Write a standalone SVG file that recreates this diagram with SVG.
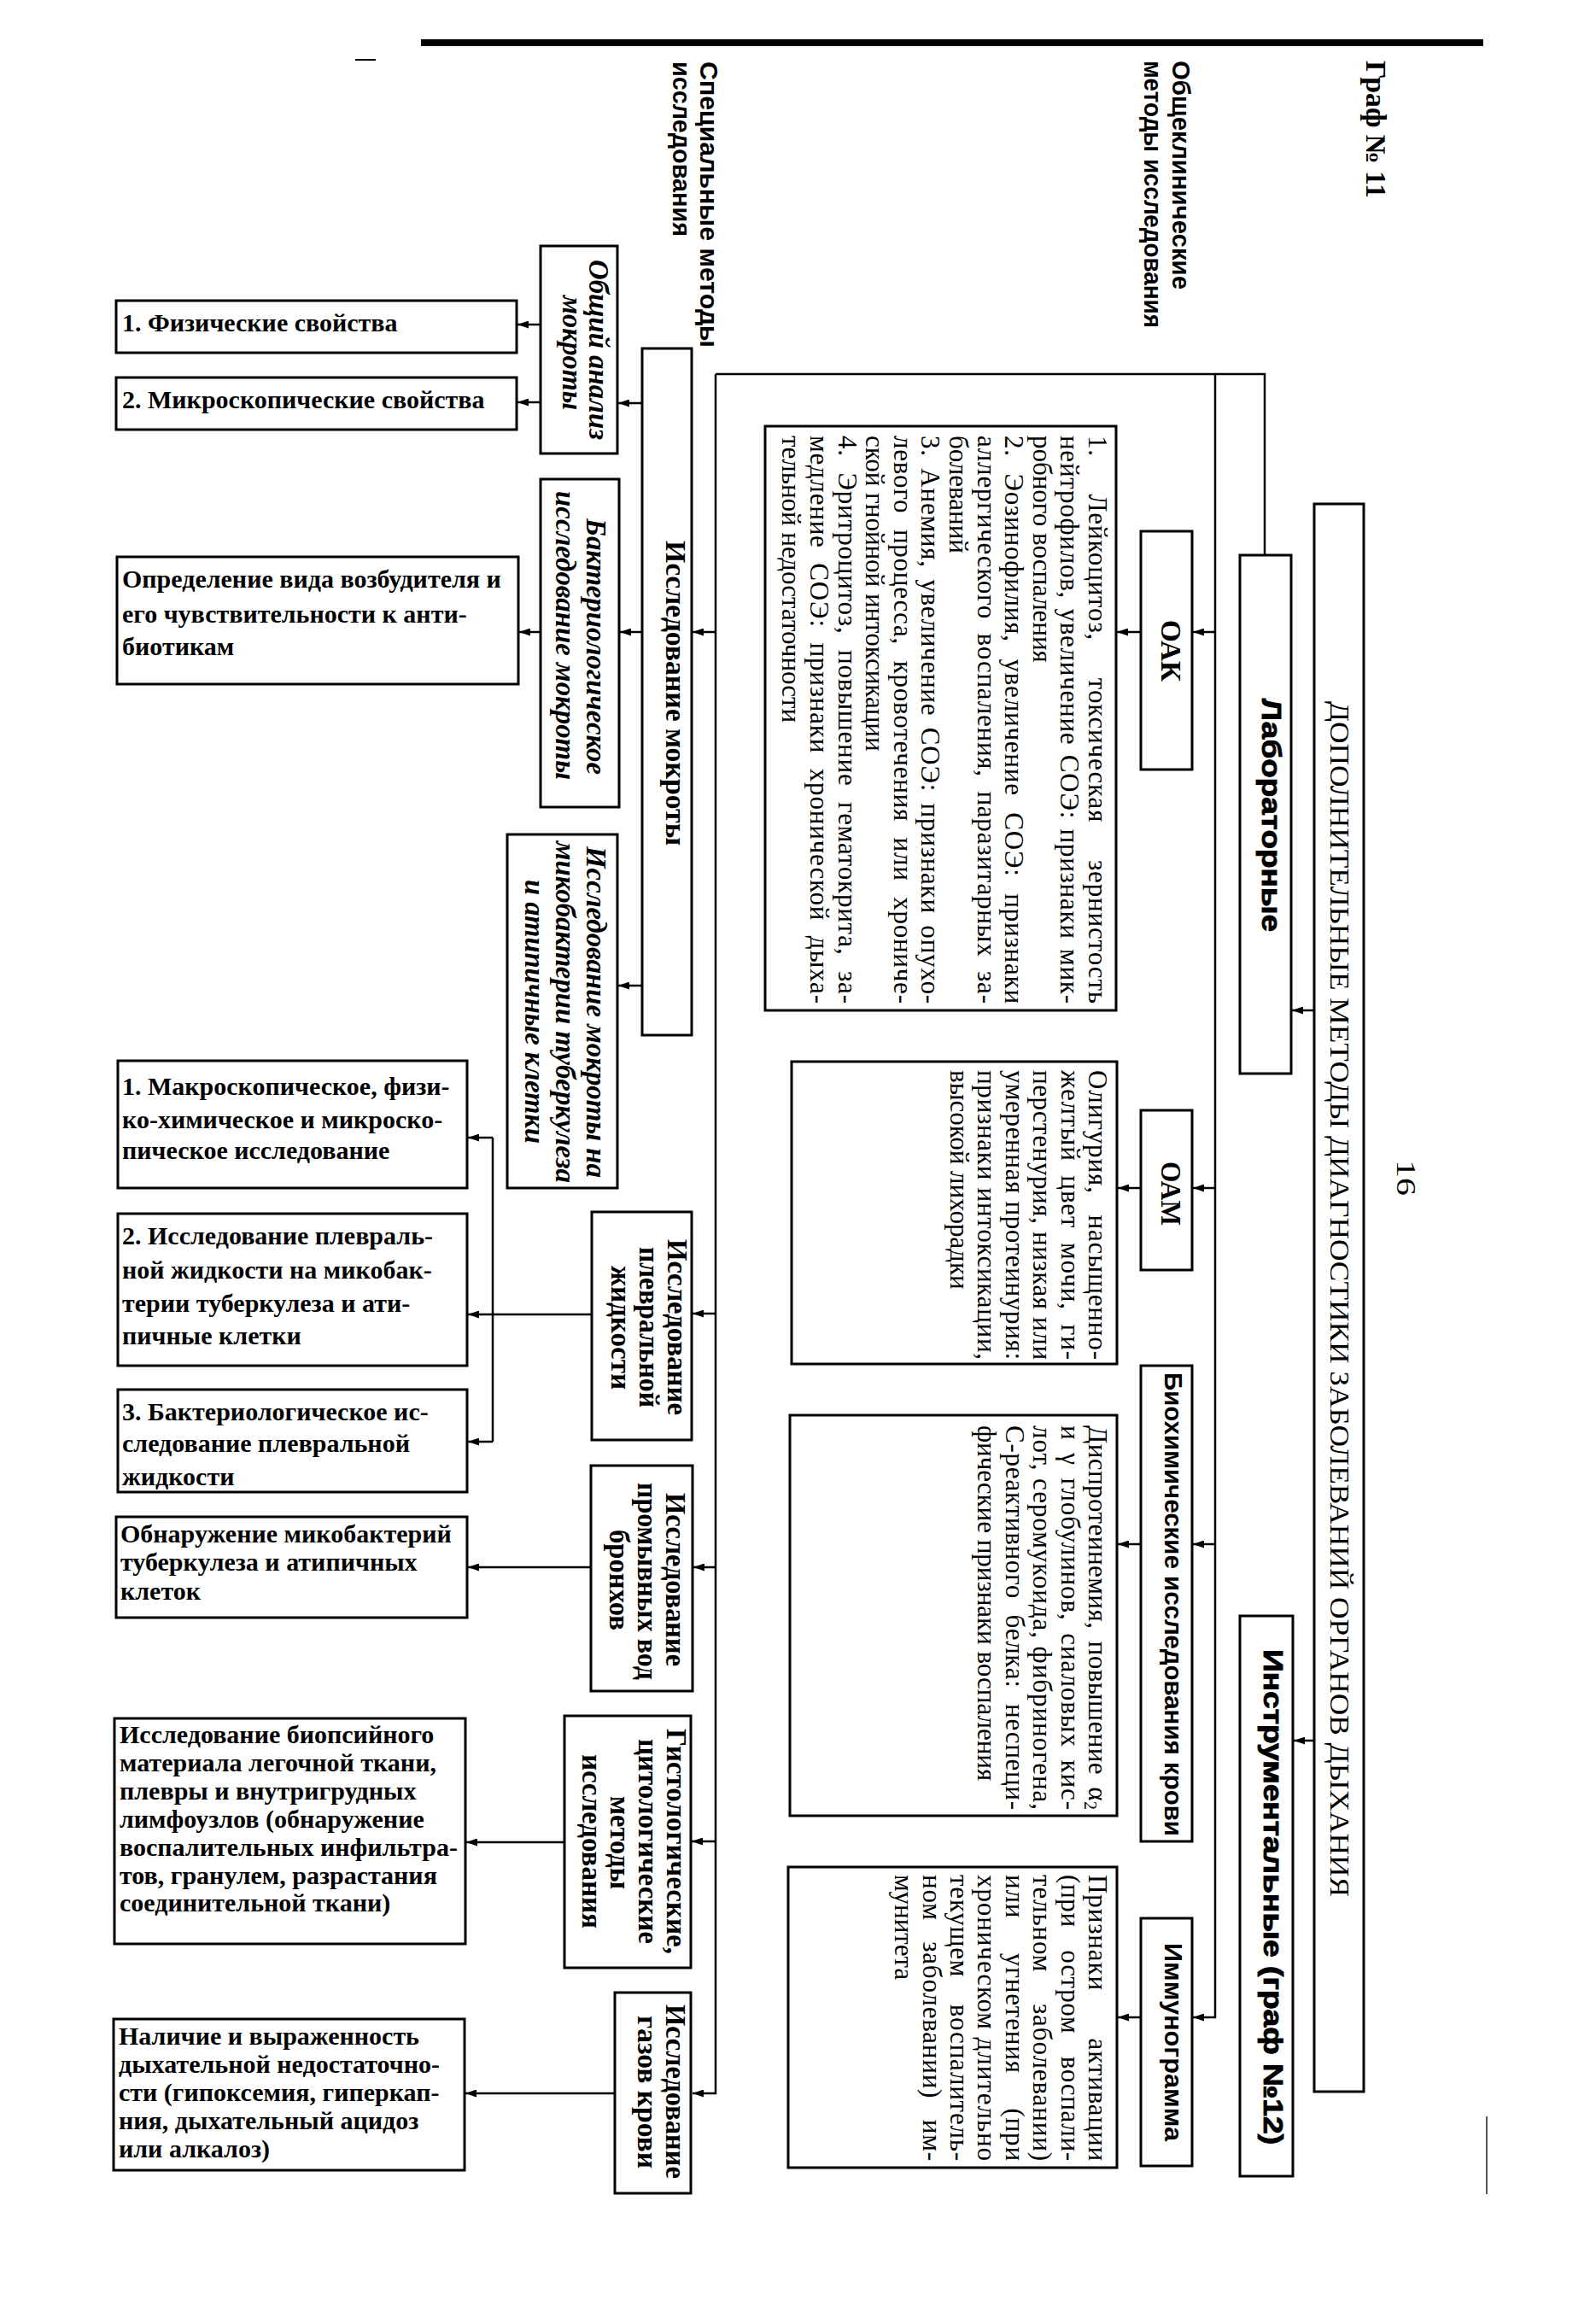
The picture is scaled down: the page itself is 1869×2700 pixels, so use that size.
<svg xmlns="http://www.w3.org/2000/svg" width="1869" height="2700" viewBox="0 0 1869 2700">
<style>
.box{fill:#fff;stroke:#000;stroke-width:3}
.ln{fill:none;stroke:#000;stroke-width:2.5}
.ar{fill:none;stroke:#000;stroke-width:2.5;marker-end:url(#ah)}
.tr{font-family:"Liberation Serif",serif;font-size:31px}
.tb{font-family:"Liberation Serif",serif;font-weight:bold;font-size:30px}
.lb{font-family:"Liberation Serif",serif;font-weight:bold;font-size:33px}
.lbi{font-family:"Liberation Serif",serif;font-weight:bold;font-style:italic;font-size:33px}
.sb{font-family:"Liberation Sans",sans-serif;font-weight:bold;font-size:30px}
.hv{font-family:"Liberation Sans",sans-serif;font-weight:bold;font-size:32px;stroke:#000;stroke-width:0.9}
</style>
<defs>
<marker id="ah" markerWidth="13" markerHeight="9" refX="13" refY="4.5" orient="auto" markerUnits="userSpaceOnUse"><path d="M0,0 L13,4.5 L0,9 z" fill="#000"/></marker>
</defs>
<rect width="1869" height="2700" fill="#fff"/>

<g id="page-marks">
<path d="M493,50 H1737" stroke="#000" stroke-width="8"/>
<path d="M416,70 H440" stroke="#000" stroke-width="2"/>
<path d="M1741,2478 V2569" stroke="#555" stroke-width="2"/>
<text class="lb" transform="translate(1600,71) rotate(90)" textLength="161" lengthAdjust="spacingAndGlyphs">Граф № 11</text>
<text class="tr" transform="translate(1636,1358) rotate(90)" textLength="42" lengthAdjust="spacingAndGlyphs">16</text>
<text class="sb" font-size="33" transform="translate(1373,71) rotate(90)" textLength="268" lengthAdjust="spacingAndGlyphs">Общеклинические</text>
<text class="sb" font-size="33" transform="translate(1340,71) rotate(90)" textLength="313" lengthAdjust="spacingAndGlyphs">методы исследования</text>
<text class="sb" font-size="31" transform="translate(820,72) rotate(90)" textLength="335" lengthAdjust="spacingAndGlyphs">Специальные методы</text>
<text class="sb" font-size="31" transform="translate(788,72) rotate(90)" textLength="205" lengthAdjust="spacingAndGlyphs">исследования</text>
</g>

<g id="connectors">
<path class="ln" d="M1481,650 V438 H838"/>
<path class="ar" d="M838,438 V2451 H811"/>
<path class="ar" d="M1423,438 V2362 H1397"/>
<path class="ar" d="M1423,740 H1397"/>
<path class="ar" d="M1423,1391 H1397"/>
<path class="ar" d="M1423,1808 H1397"/>
<path class="ar" d="M1539,1183 H1513"/>
<path class="ar" d="M1539,2038 H1515"/>
<path class="ar" d="M1336,740 H1308"/>
<path class="ar" d="M1336,1391 H1309"/>
<path class="ar" d="M1336,1808 H1309"/>
<path class="ar" d="M1336,2362 H1309"/>
<path class="ar" d="M838,740 H811"/>
<path class="ar" d="M838,1538 H811"/>
<path class="ar" d="M838,1835 H812"/>
<path class="ar" d="M838,2156 H810"/>
<path class="ar" d="M752,472 H724"/>
<path class="ar" d="M752,740 H726"/>
<path class="ar" d="M752,1154 H724"/>
<path class="ar" d="M633,380 H606"/>
<path class="ar" d="M633,471 H606"/>
<path class="ar" d="M633,740 H608"/>
<path class="ar" d="M693,1539 H548"/>
<path class="ln" d="M577,1332 V1688"/>
<path class="ar" d="M577,1332 H548"/>
<path class="ar" d="M577,1688 H548"/>
<path class="ar" d="M692,1835 H548"/>
<path class="ar" d="M661,2157 H546"/>
<path class="ar" d="M720,2451 H545"/>
</g>

<g id="header">
<rect class="box" x="1539" y="590" width="58" height="1859"/>
<text class="tr" transform="translate(1558,821) rotate(90)" textLength="1400" lengthAdjust="spacingAndGlyphs">ДОПОЛНИТЕЛЬНЫЕ МЕТОДЫ ДИАГНОСТИКИ ЗАБОЛЕВАНИЙ ОРГАНОВ ДЫХАНИЯ</text>
</g>

<g id="lab">
<rect class="box" x="1452" y="650" width="60" height="607"/>
<text class="hv" transform="translate(1478,818) rotate(90)" textLength="273" lengthAdjust="spacingAndGlyphs">Лабораторные</text>
</g>

<g id="instr">
<rect class="box" x="1452" y="1892" width="62" height="656"/>
<text class="hv" transform="translate(1480,1931) rotate(90)" textLength="580" lengthAdjust="spacingAndGlyphs">Инструментальные (граф №12)</text>
</g>

<g id="oak">
<rect class="box" x="1336" y="622" width="60" height="279"/>
<text class="lb" font-size="32" transform="translate(1360,726) rotate(90)" textLength="72" lengthAdjust="spacingAndGlyphs">ОАК</text>
</g>
<g id="oam">
<rect class="box" x="1336" y="1300" width="60" height="187"/>
<text class="lb" font-size="32" transform="translate(1360,1360) rotate(90)" textLength="75" lengthAdjust="spacingAndGlyphs">ОАМ</text>
</g>
<g id="biochem">
<rect class="box" x="1336" y="1599" width="60" height="557"/>
<text class="sb" font-size="28" transform="translate(1364,1607) rotate(90)" textLength="543" lengthAdjust="spacingAndGlyphs">Биохимические исследования крови</text>
</g>
<g id="immuno">
<rect class="box" x="1336" y="2246" width="60" height="290"/>
<text class="sb" font-size="28" transform="translate(1364,2275) rotate(90)" textLength="232" lengthAdjust="spacingAndGlyphs">Иммунограмма</text>
</g>

<g id="oak-result">
<rect class="box" x="896" y="499" width="411" height="684"/>
<text class="tr" transform="translate(1275,510) rotate(90)" word-spacing="35" textLength="665">1. Лейкоцитоз, токсическая зернистость</text>
<text class="tr" transform="translate(1242.4,510) rotate(90)" word-spacing="3" textLength="665">нейтрофилов, увеличение СОЭ: признаки мик-</text>
<text class="tr" transform="translate(1209.8,510) rotate(90)">робного воспаления</text>
<text class="tr" transform="translate(1177.2,510) rotate(90)" word-spacing="11" textLength="665">2. Эозинофилия, увеличение СОЭ: признаки</text>
<text class="tr" transform="translate(1144.6,510) rotate(90)" word-spacing="8" textLength="665">аллергического воспаления, паразитарных за-</text>
<text class="tr" transform="translate(1112,510) rotate(90)">болеваний</text>
<text class="tr" transform="translate(1079.4,510) rotate(90)" word-spacing="5" textLength="665">3. Анемия, увеличение СОЭ: признаки опухо-</text>
<text class="tr" transform="translate(1046.8,510) rotate(90)" word-spacing="10" textLength="665">левого процесса, кровотечения или хрониче-</text>
<text class="tr" transform="translate(1014.2,510) rotate(90)">ской гнойной интоксикации</text>
<text class="tr" transform="translate(981.6,510) rotate(90)" word-spacing="10" textLength="665">4. Эритроцитоз, повышение гематокрита, за-</text>
<text class="tr" transform="translate(949,510) rotate(90)" word-spacing="9" textLength="665">медление СОЭ: признаки хронической дыха-</text>
<text class="tr" transform="translate(916.4,510) rotate(90)">тельной недостаточности</text>
</g>

<g id="oam-result">
<rect class="box" x="927" y="1243" width="381" height="354"/>
<text class="tr" transform="translate(1275,1253) rotate(90)" word-spacing="16" textLength="339">Олигурия, насыщенно-</text>
<text class="tr" transform="translate(1242.6,1253) rotate(90)" word-spacing="8" textLength="339">желтый цвет мочи, ги-</text>
<text class="tr" transform="translate(1210.2,1253) rotate(90)" textLength="339">перстенурия, низкая или</text>
<text class="tr" transform="translate(1177.8,1253) rotate(90)" textLength="339">умеренная протеинурия:</text>
<text class="tr" transform="translate(1145.4,1253) rotate(90)" textLength="339">признаки интоксикации,</text>
<text class="tr" transform="translate(1113,1253) rotate(90)">высокой лихорадки</text>
</g>

<g id="biochem-result">
<rect class="box" x="925" y="1657" width="383" height="469"/>
<text class="tr" transform="translate(1275,1669) rotate(90)" word-spacing="6" textLength="450">Диспротеинемия, повышение α<tspan font-size="20" dy="5">2</tspan></text>
<text class="tr" transform="translate(1242.6,1669) rotate(90)" word-spacing="6" textLength="450">и γ глобулинов, сиаловых кис-</text>
<text class="tr" transform="translate(1210.2,1669) rotate(90)" textLength="450">лот, серомукоида, фибриногена,</text>
<text class="tr" transform="translate(1177.8,1669) rotate(90)" word-spacing="10" textLength="450">С-реактивного белка: неспеци-</text>
<text class="tr" transform="translate(1145.4,1669) rotate(90)">фические признаки воспаления</text>
</g>

<g id="immuno-result">
<rect class="box" x="923" y="2186" width="385" height="352"/>
<text class="tr" transform="translate(1275,2195) rotate(90)" word-spacing="47" textLength="335">Признаки активации</text>
<text class="tr" transform="translate(1242.6,2195) rotate(90)" word-spacing="18" textLength="335">(при остром воспали-</text>
<text class="tr" transform="translate(1210.2,2195) rotate(90)" word-spacing="28" textLength="335">тельном заболевании)</text>
<text class="tr" transform="translate(1177.8,2195) rotate(90)" word-spacing="32" textLength="335">или угнетения (при</text>
<text class="tr" transform="translate(1145.4,2195) rotate(90)" textLength="335">хроническом длительно</text>
<text class="tr" transform="translate(1113,2195) rotate(90)" word-spacing="23" textLength="335">текущем воспалитель-</text>
<text class="tr" transform="translate(1080.6,2195) rotate(90)" word-spacing="16" textLength="335">ном заболевании) им-</text>
<text class="tr" transform="translate(1048.2,2195) rotate(90)">мунитета</text>
</g>

<g id="sputum">
<rect class="box" x="752" y="408" width="58" height="804"/>
<text class="lb" transform="translate(780,633) rotate(90)" textLength="357" lengthAdjust="spacingAndGlyphs">Исследование мокроты</text>
</g>
<g id="sputum-general">
<rect class="box" x="633" y="288" width="90" height="243"/>
<text class="lbi" transform="translate(690,304) rotate(90)" textLength="211" lengthAdjust="spacingAndGlyphs">Общий анализ</text>
<text class="lbi" transform="translate(659,346) rotate(90)" textLength="134" lengthAdjust="spacingAndGlyphs">мокроты</text>
</g>
<g id="sputum-bact">
<rect class="box" x="633" y="561" width="92" height="384"/>
<text class="lbi" transform="translate(687,607) rotate(90)" textLength="300" lengthAdjust="spacingAndGlyphs">Бактериологическое</text>
<text class="lbi" transform="translate(651,575) rotate(90)" textLength="338" lengthAdjust="spacingAndGlyphs">исследование мокроты</text>
</g>
<g id="sputum-myco">
<rect class="box" x="594" y="977" width="129" height="414"/>
<text class="lbi" font-size="32" transform="translate(687,991) rotate(90)" textLength="388" lengthAdjust="spacingAndGlyphs">Исследование мокроты на</text>
<text class="lbi" font-size="32" transform="translate(651,985) rotate(90)" textLength="400" lengthAdjust="spacingAndGlyphs">микобактерии туберкулеза</text>
<text class="lbi" font-size="32" transform="translate(615,1030) rotate(90)" textLength="309" lengthAdjust="spacingAndGlyphs">и атипичные клетки</text>
</g>
<g id="pleural">
<rect class="box" x="693" y="1419" width="117" height="267"/>
<text class="lb" transform="translate(782,1451) rotate(90)" textLength="206" lengthAdjust="spacingAndGlyphs">Исследование</text>
<text class="lb" transform="translate(749,1460) rotate(90)" textLength="188" lengthAdjust="spacingAndGlyphs">плевральной</text>
<text class="lb" transform="translate(716,1482) rotate(90)" textLength="145" lengthAdjust="spacingAndGlyphs">жидкости</text>
</g>
<g id="bronch">
<rect class="box" x="692" y="1716" width="119" height="264"/>
<text class="lb" transform="translate(780,1748) rotate(90)" textLength="203" lengthAdjust="spacingAndGlyphs">Исследование</text>
<text class="lb" transform="translate(747,1736) rotate(90)" textLength="231" lengthAdjust="spacingAndGlyphs">промывных вод</text>
<text class="lb" transform="translate(714,1791) rotate(90)" textLength="118" lengthAdjust="spacingAndGlyphs">бронхов</text>
</g>
<g id="histo">
<rect class="box" x="661" y="2009" width="148" height="295"/>
<text class="lb" transform="translate(781,2024) rotate(90)" textLength="264" lengthAdjust="spacingAndGlyphs">Гистологические,</text>
<text class="lb" transform="translate(748,2036) rotate(90)" textLength="240" lengthAdjust="spacingAndGlyphs">цитологические</text>
<text class="lb" transform="translate(715,2103) rotate(90)" textLength="109" lengthAdjust="spacingAndGlyphs">методы</text>
<text class="lb" transform="translate(682,2054) rotate(90)" textLength="204" lengthAdjust="spacingAndGlyphs">исследования</text>
</g>
<g id="gas">
<rect class="box" x="720" y="2333" width="89" height="235"/>
<text class="lb" transform="translate(780,2347) rotate(90)" textLength="204" lengthAdjust="spacingAndGlyphs">Исследование</text>
<text class="lb" transform="translate(747,2360) rotate(90)" textLength="179" lengthAdjust="spacingAndGlyphs">газов крови</text>
</g>

<g id="res-phys">
<rect class="box" x="136" y="352" width="469" height="61"/>
<text class="tb" x="143" y="388">1. Физические свойства</text>
</g>
<g id="res-micro">
<rect class="box" x="136" y="442" width="469" height="61"/>
<text class="tb" x="143" y="478">2. Микроскопические свойства</text>
</g>
<g id="res-bact">
<rect class="box" x="137" y="652" width="470" height="149"/>
<text class="tb" font-size="31" x="143" y="688">Определение вида возбудителя и</text>
<text class="tb" font-size="31" x="143" y="729">его чувствительности к анти-</text>
<text class="tb" font-size="31" x="143" y="767">биотикам</text>
</g>
<g id="res-pl1">
<rect class="box" x="138" y="1242" width="409" height="149"/>
<text class="tb" x="143" y="1282">1. Макроскопическое, физи-</text>
<text class="tb" x="143" y="1321">ко-химическое и микроско-</text>
<text class="tb" x="143" y="1357">пическое исследование</text>
</g>
<g id="res-pl2">
<rect class="box" x="138" y="1421" width="409" height="178"/>
<text class="tb" x="143" y="1457">2. Исследование плевраль-</text>
<text class="tb" x="143" y="1497">ной жидкости на микобак-</text>
<text class="tb" x="143" y="1536">терии туберкулеза и ати-</text>
<text class="tb" x="143" y="1574">пичные клетки</text>
</g>
<g id="res-pl3">
<rect class="box" x="138" y="1627" width="409" height="120"/>
<text class="tb" x="143" y="1663">3. Бактериологическое ис-</text>
<text class="tb" x="143" y="1700">следование плевральной</text>
<text class="tb" x="143" y="1739">жидкости</text>
</g>
<g id="res-bronch">
<rect class="box" x="136" y="1776" width="411" height="118"/>
<text class="tb" x="141" y="1806">Обнаружение микобактерий</text>
<text class="tb" x="141" y="1839">туберкулеза и атипичных</text>
<text class="tb" x="141" y="1873">клеток</text>
</g>
<g id="res-histo">
<rect class="box" x="134" y="2012" width="411" height="264"/>
<text class="tb" x="140" y="2041">Исследование биопсийного</text>
<text class="tb" x="140" y="2074">материала легочной ткани,</text>
<text class="tb" x="140" y="2107">плевры  и внутригрудных</text>
<text class="tb" x="140" y="2140">лимфоузлов (обнаружение</text>
<text class="tb" x="140" y="2173">воспалительных инфильтра-</text>
<text class="tb" x="140" y="2206">тов, гранулем, разрастания</text>
<text class="tb" x="140" y="2238">соединительной ткани)</text>
</g>
<g id="res-gas">
<rect class="box" x="133" y="2364" width="411" height="177"/>
<text class="tb" x="139" y="2394">Наличие и выраженность</text>
<text class="tb" x="139" y="2427">дыхательной недостаточно-</text>
<text class="tb" x="139" y="2460">сти (гипоксемия, гиперкап-</text>
<text class="tb" x="139" y="2493">ния, дыхательный ацидоз</text>
<text class="tb" x="139" y="2526">или алкалоз)</text>
</g>
</svg>
